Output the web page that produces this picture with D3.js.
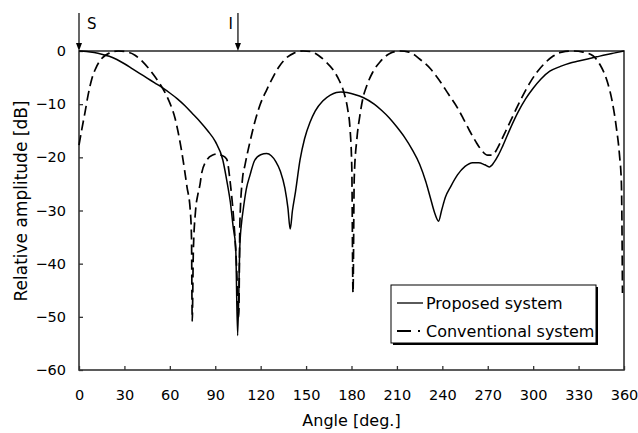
<!DOCTYPE html>
<html><head><meta charset="utf-8">
<script src="https://cdn.jsdelivr.net/npm/d3@7"></script>
<style>body{margin:0;background:#fff}svg{display:block}text{font-family:"DejaVu Sans",sans-serif;fill:#000}</style>
</head><body>
<svg id="c" width="638" height="433"></svg>
<script>
// ---- data ----
const xTicks = [0,30,60,90,120,150,180,210,240,270,300,330,360];
const yTicks = [0,-10,-20,-30,-40,-50,-60];
const seriesNames = ["Proposed system","Conventional system"];
const markerAngles = [0,105];
const markerLabels = ["S","I"];

const proposedAngle = [0,5,10,15,20,25,30,35,40,45,50,55,60,65,70,75,80,85,90,95,98,100,101.8,103.5,104.8,106.2,107.5,108.4,110.5,113,116,120,124,127,130,133,136,138,139.5,141,143,146,149,152.6,156,161,166,170,173,177,181,188,195,200,205,210,215,220,225,229,232,235,237.5,239.5,242,245.7,250,255,260,264,268,271,274,277,280,285,290,295,300,305,311,318,324,330,336,342,348,354,360];
const proposedDb    = [0,-0.1,-0.3,-0.6,-1.0,-1.6,-2.4,-3.3,-4.2,-5.1,-6.0,-6.9,-7.9,-9.0,-10.3,-11.8,-13.3,-15.0,-17.0,-20.5,-25,-28.5,-33,-37,-53.5,-37,-32,-30,-26,-23.3,-20.6,-19.5,-19.3,-19.7,-20.8,-22.6,-25.8,-29.5,-33.5,-30,-26.5,-20.5,-16.5,-13.4,-11.3,-9.4,-8.3,-7.8,-7.7,-7.8,-8.1,-8.8,-10,-11.2,-12.6,-14.3,-16.2,-18.5,-21.3,-24.5,-27.5,-30.5,-32,-30,-27.5,-25.4,-23.3,-21.7,-21,-21,-21.4,-21.8,-21,-19.6,-17.8,-14.5,-11.5,-9,-7,-5.3,-3.8,-2.9,-2.3,-1.9,-1.5,-1.1,-0.7,-0.35,0];

const conventionalAngle = [0,2,4,6,8.5,11,15,20,26,32,37,42,48,53,57,61,63.4,64.7,68,71.3,73.5,74.3,74.8,75.5,77,78.5,80,81,84.5,88,91,94,97.5,100,102,104,105.5,106.3,108,109.6,113,116,119.5,124,128,132,137,142,148,153,158,163,168,172,175,177.5,179,180.2,181,181.8,183.6,185.5,187.6,190,194,199,205,212,218,225,232,238,244,250,254,258,262,266,270,273,276,279,282,285,290,295,298,303,308,313,319,326,333,339.5,344,349,352,355,357,358.3,359];
const conventionalDb    = [-17.7,-14.5,-11.5,-8.3,-5.2,-3.3,-1.4,-0.4,0,-0.2,-0.8,-2,-4,-6,-7.9,-10.5,-12.6,-14.2,-19.2,-25.5,-30,-35,-50.8,-38,-30,-27,-25,-23,-20.5,-19.6,-19.4,-19.6,-20.3,-25,-31,-40,-50,-32,-24,-21.5,-17,-13.5,-10.2,-7.3,-5,-3,-1.3,-0.4,0,-0.1,-0.8,-2,-3.6,-5.6,-7.8,-11,-14.5,-22,-45.5,-24,-16.4,-12.2,-8.8,-6.6,-4,-2,-0.5,0,-0.2,-1.5,-3.3,-5.5,-8.1,-10.7,-12.8,-15,-17,-18.7,-19.6,-19.6,-18.5,-16.8,-15,-13.2,-10.2,-7.4,-5.9,-3.8,-2.2,-1,-0.2,0,-0.2,-0.9,-2.5,-5.8,-9.2,-14.5,-19.5,-25,-45.5];

// ---- chart ----
const svg = d3.select("#c");
const L=79,R=624,T=51,B=370;
const x = d3.scaleLinear().domain([0,360]).range([L,R]);
const y = d3.scaleLinear().domain([-60,0]).range([B,T]);

const gx = svg.append("g").attr("transform",`translate(0,${B})`)
  .call(d3.axisBottom(x).tickValues(xTicks).tickSize(-4).tickPadding(20).tickFormat(d3.format("d")));
gx.select(".domain").remove();
gx.selectAll("text").attr("font-size",14.5).attr("font-family","DejaVu Sans");
gx.selectAll("line").attr("stroke","#333").attr("stroke-width",1.3);

const gy = svg.append("g").attr("transform",`translate(${L},0)`)
  .call(d3.axisLeft(y).tickValues(yTicks).tickSize(-4).tickPadding(13).tickFormat(d=>d<0?"\u2212"+Math.abs(d):d));
gy.select(".domain").remove();
gy.selectAll("text").attr("font-size",14.5).attr("font-family","DejaVu Sans");
gy.selectAll("line").attr("stroke","#333").attr("stroke-width",1.3);

// frame
svg.append("rect").attr("x",L).attr("y",T).attr("width",R-L).attr("height",B-T)
  .attr("fill","none").attr("stroke","#333").attr("stroke-width",1.6);

const line = d3.line().x(d=>x(d[0])).y(d=>y(d[1])).curve(d3.curveMonotoneX);
const propData = proposedAngle.map((a,i)=>[a,proposedDb[i]]);
const convData = conventionalAngle.map((a,i)=>[a,conventionalDb[i]]);

svg.append("path").datum(convData).attr("d",line).attr("fill","none")
  .attr("stroke","#000").attr("stroke-width",1.7).attr("stroke-dasharray","10,5");
svg.append("path").datum(propData).attr("d",line).attr("fill","none")
  .attr("stroke","#000").attr("stroke-width",1.5);

// arrows
markerAngles.forEach((a,i)=>{
  const px = x(a);
  svg.append("line").attr("x1",px).attr("x2",px).attr("y1",13).attr("y2",T-4)
    .attr("stroke","#000").attr("stroke-width",1.2);
  svg.append("path").attr("d",`M${px-3},${T-8}L${px+3},${T-8}L${px},${T}Z`).attr("fill","#000");
  const t = svg.append("text").attr("y",29).attr("font-size",15).text(markerLabels[i]);
  if(i===0) t.attr("x",px+8); else t.attr("x",px-5).attr("text-anchor","end");
});

// axis titles
svg.append("text").attr("x",(L+R)/2).attr("y",426).attr("text-anchor","middle")
  .attr("font-size",16).text("Angle [deg.]");
svg.append("text").attr("transform",`translate(27,${201}) rotate(-90)`).attr("text-anchor","middle")
  .attr("font-size",17).text("Relative amplitude [dB]");

// legend
const lg = svg.append("g");
lg.append("rect").attr("x",393).attr("y",287).attr("width",205).attr("height",58).attr("fill","#000");
lg.append("rect").attr("x",391).attr("y",285).attr("width",205).attr("height",58)
  .attr("fill","#fff").attr("stroke","#000").attr("stroke-width",1);
lg.append("line").attr("x1",397).attr("x2",423).attr("y1",303).attr("y2",303)
  .attr("stroke","#000").attr("stroke-width",1.3);
lg.append("line").attr("x1",397).attr("x2",424).attr("y1",331).attr("y2",331)
  .attr("stroke","#000").attr("stroke-width",2).attr("stroke-dasharray","14,7,2,10");
seriesNames.forEach((n,i)=>{
  lg.append("text").attr("x",426).attr("y",303+28*i).attr("dy","0.35em")
    .attr("font-size",16).text(n);
});
</script>
</body></html>
